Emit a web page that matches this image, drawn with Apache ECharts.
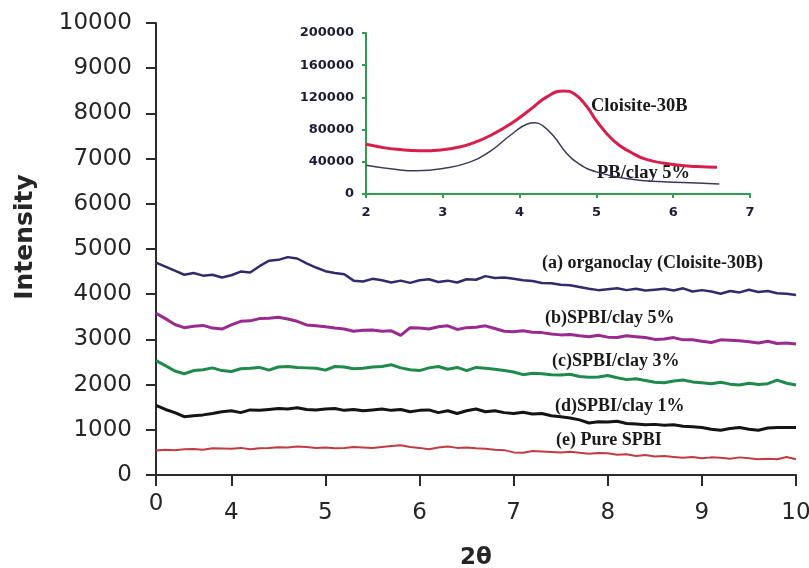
<!DOCTYPE html>
<html>
<head>
<meta charset="utf-8">
<title>XRD</title>
<script src="https://cdn.jsdelivr.net/npm/echarts@6/dist/echarts.min.js"></script>
<style>
  html, body { margin: 0; padding: 0; background: #fff; }
  #xrdChart { width: 809px; height: 568px; }
</style>
</head>
<body>
<div id="xrdChart"></div>
<script>
// 主图 x 轴 (2θ), 横轴从 3.2 开始, 但原图第一格标 0
const xTickVals = [3.2, 4, 5, 6, 7, 8, 9, 10]
const xTickLabels = ['0', '4', '5', '6', '7', '8', '9', '10']

const twoTheta = [
  3.2, 3.3, 3.4, 3.5, 3.6, 3.7, 3.8, 3.9, 4.0, 4.1, 4.2, 4.3, 4.4, 4.5, 4.6, 4.7, 4.8, 4.9,
  5.0, 5.1, 5.2, 5.3, 5.4, 5.5, 5.6, 5.7, 5.8, 5.9, 6.0, 6.1, 6.2, 6.3, 6.4, 6.5, 6.6, 6.7, 6.8, 6.9,
  7.0, 7.1, 7.2, 7.3, 7.4, 7.5, 7.6, 7.7, 7.8, 7.9, 8.0, 8.1, 8.2, 8.3, 8.4, 8.5, 8.6, 8.7, 8.8, 8.9,
  9.0, 9.1, 9.2, 9.3, 9.4, 9.5, 9.6, 9.7, 9.8, 9.9, 10.0
]

// (a) organoclay (Cloisite-30B)
const organoclay = [
  4700, 4610, 4520, 4430, 4470, 4410, 4430, 4370, 4420, 4500, 4480, 4620, 4740, 4760, 4820, 4790, 4680, 4590,
  4510, 4470, 4440, 4300, 4280, 4340, 4310, 4260, 4300, 4250, 4310, 4330, 4270, 4300, 4260, 4330, 4320, 4400, 4360, 4370,
  4340, 4310, 4290, 4250, 4240, 4210, 4200, 4160, 4120, 4090, 4110, 4130, 4090, 4120, 4080, 4100, 4120, 4080, 4130, 4060,
  4090, 4060, 4010, 4070, 4040, 4100, 4050, 4070, 4020, 4010, 3980
]
// (b) SPBI/clay 5%
const clay5 = [
  3580, 3460, 3330, 3260, 3290, 3310, 3250, 3230, 3320, 3400, 3410, 3460, 3470, 3490, 3450, 3400, 3320, 3300,
  3280, 3250, 3230, 3180, 3200, 3210, 3180, 3190, 3090, 3260, 3250, 3230, 3280, 3300, 3220, 3260, 3270, 3300, 3240, 3180,
  3170, 3190, 3160, 3150, 3120, 3100, 3110, 3080, 3060, 3090, 3050, 3040, 3080, 3060, 3040, 3000, 3010, 3040, 2990, 2990,
  2960, 2930, 2990, 2980, 2970, 2950, 2920, 2960, 2910, 2920, 2900
]
// (c) SPBI/clay 3%
const clay3 = [
  2530, 2420, 2300, 2240, 2310, 2330, 2370, 2310, 2290, 2350, 2360, 2380, 2320, 2390, 2400, 2380, 2370, 2360,
  2320, 2400, 2390, 2350, 2360, 2390, 2400, 2440, 2370, 2330, 2310, 2370, 2400, 2340, 2380, 2310, 2380, 2360, 2340, 2310,
  2280, 2220, 2250, 2240, 2220, 2210, 2230, 2180, 2160, 2170, 2200, 2150, 2110, 2130, 2090, 2050, 2040, 2080, 2100, 2060,
  2040, 2020, 2050, 2010, 1990, 2030, 2000, 2020, 2100, 2030, 1990
]
// (d) SPBI/clay 1%
const clay1 = [
  1540, 1450, 1380, 1290, 1310, 1330, 1360, 1400, 1420, 1380, 1440, 1430, 1450, 1470, 1460, 1490, 1450, 1440,
  1460, 1470, 1430, 1450, 1420, 1440, 1460, 1430, 1450, 1400, 1430, 1440, 1380, 1420, 1360, 1420, 1460, 1400, 1420, 1380,
  1360, 1390, 1350, 1360, 1310, 1290, 1260, 1220, 1150, 1180, 1170, 1190, 1140, 1130, 1110, 1120, 1100, 1110, 1080, 1070,
  1050, 1010, 990, 1030, 1050, 1010, 990, 1040, 1050, 1050, 1050
]
// (e) Pure SPBI
const pureSpbi = [
  540, 560, 550, 570, 575, 560, 590, 585, 580, 600, 570, 590, 600, 615, 610, 630, 620, 600,
  610, 590, 600, 620, 610, 595, 620, 640, 660, 620, 600, 570, 610, 630, 600, 610, 590, 580, 560, 550,
  500, 490, 530, 520, 510, 500, 515, 490, 470, 485, 480, 450, 460, 420, 440, 410, 420, 400, 380, 400,
  370, 390, 380, 360, 390, 370, 350, 360, 350, 400, 350
]

// 小图 (inset)
const insetCloisite = [
  [2.0, 61700], [2.2, 58000], [2.4, 55500], [2.7, 53600], [3.0, 55000], [3.2, 58000], [3.4, 63500],
  [3.62, 72700], [3.88, 87000], [4.14, 105000], [4.36, 121000], [4.57, 128000], [4.72, 124000],
  [4.88, 108000], [5.0, 91000], [5.22, 66600], [5.44, 52200], [5.66, 42700], [6.0, 36600],
  [6.31, 34100], [6.57, 33300]
]
const insetPbClay = [
  [2.0, 35800], [2.4, 30400], [2.66, 28800], [3.0, 31600], [3.36, 39900], [3.62, 53400], [3.88, 73000],
  [4.1, 87000], [4.2, 88600], [4.3, 85000], [4.45, 71000], [4.6, 52000], [4.75, 39000], [5.0, 27500],
  [5.44, 18500], [5.87, 15200], [6.31, 13600], [6.6, 12300]
]

const seriesNames = [
  '(a) organoclay (Cloisite-30B)', '(b)SPBI/clay 5%', '(c)SPBI/clay 3%', '(d)SPBI/clay 1%', '(e) Pure SPBI'
]
const seriesData = [organoclay, clay5, clay3, clay1, pureSpbi]
const seriesColors = ['#302c6c', '#9a2a8e', '#1f8a4c', '#141414', '#c23b40']
const seriesWidths = [2.5, 3, 3, 3, 2]

const axisFont = 'DejaVu Sans'

const chartDom = document.getElementById('xrdChart')
const myChart = echarts.init(chartDom)

function pairs(ys) {
  return ys.map((y, i) => [twoTheta[i], y])
}

// 标注文字 (居中于 y)
function note(text, x, y, size) {
  return {
    type: 'text',
    x: x,
    y: y,
    style: {
      text: text,
      font: 'bold ' + size + 'px "Liberation Serif"',
      fill: '#1a1a1a',
      verticalAlign: 'middle'
    }
  }
}

const mainSeries = seriesData.map((ys, i) => ({
  name: seriesNames[i],
  type: 'line',
  xAxisIndex: 0,
  yAxisIndex: 0,
  showSymbol: false,
  data: pairs(ys),
  lineStyle: { color: seriesColors[i], width: seriesWidths[i] },
  itemStyle: { color: seriesColors[i] }
}))

const option = {
  backgroundColor: '#fff',
  animation: false,
  grid: [
    { left: 156, top: 23, right: 13, bottom: 93, outerBoundsMode: 'none' },
    { left: 366, top: 33, right: 59, bottom: 374, outerBoundsMode: 'none' }
  ],
  xAxis: [
    {
      type: 'value',
      gridIndex: 0,
      min: 3.2,
      max: 10,
      name: '2θ',
      nameLocation: 'middle',
      nameGap: 72,
      nameTextStyle: { fontFamily: axisFont, fontWeight: 'bold', fontSize: 23, color: '#262626' },
      axisLine: { lineStyle: { color: '#2b2b2b', width: 2 } },
      axisTick: { show: true, length: 11, customValues: xTickVals, lineStyle: { color: '#2b2b2b', width: 2 } },
      axisLabel: {
        customValues: xTickVals,
        margin: 27,
        fontFamily: axisFont,
        fontSize: 23,
        color: '#262626',
        formatter: function(v) {
          const i = xTickVals.findIndex(t => Math.abs(t - v) < 1e-6)
          if (i < 0) return ''
          // 原图里第一个 "0" 比其它标签略高
          return i === 0 ? '{up|' + xTickLabels[i] + '}' : xTickLabels[i]
        },
        rich: {
          up: { fontFamily: axisFont, fontSize: 23, color: '#262626', lineHeight: 4 }
        }
      },
      splitLine: { show: false }
    },
    {
      type: 'value',
      gridIndex: 1,
      min: 2,
      max: 7,
      interval: 1,
      axisLine: { lineStyle: { color: '#2f9e4f', width: 2 } },
      axisTick: { length: 4, lineStyle: { color: '#2f9e4f', width: 2 } },
      axisLabel: { margin: 12, fontFamily: axisFont, fontWeight: 'bold', fontSize: 13, color: '#1c1c3a' },
      splitLine: { show: false }
    }
  ],
  yAxis: [
    {
      type: 'value',
      gridIndex: 0,
      min: 0,
      max: 10000,
      interval: 1000,
      axisLine: { show: true, lineStyle: { color: '#2b2b2b', width: 2 } },
      axisTick: { show: true, length: 10, lineStyle: { color: '#2b2b2b', width: 2 } },
      axisLabel: {
        margin: 24,
        fontFamily: axisFont,
        fontSize: 23,
        color: '#262626',
        formatter: v => String(v)
      },
      splitLine: { show: false }
    },
    {
      type: 'value',
      gridIndex: 1,
      min: 0,
      max: 200000,
      interval: 40000,
      axisLine: { show: true, lineStyle: { color: '#2f9e4f', width: 2 } },
      axisTick: { show: true, length: 4, lineStyle: { color: '#2f9e4f', width: 2 } },
      axisLabel: {
        margin: 12,
        fontFamily: axisFont,
        fontWeight: 'bold',
        fontSize: 13,
        color: '#1c1c3a',
        formatter: v => String(v)
      },
      splitLine: { show: false }
    }
  ],
  series: mainSeries.concat([
    {
      name: 'Cloisite-30B',
      type: 'line',
      xAxisIndex: 1,
      yAxisIndex: 1,
      smooth: true,
      showSymbol: false,
      data: insetCloisite,
      lineStyle: { color: '#d81f4b', width: 3 }
    },
    {
      name: 'PB/clay 5%',
      type: 'line',
      xAxisIndex: 1,
      yAxisIndex: 1,
      smooth: true,
      showSymbol: false,
      data: insetPbClay,
      lineStyle: { color: '#3a3a5c', width: 1.5 }
    }
  ]),
  graphic: [
    {
      type: 'text',
      x: 25,
      y: 237,
      rotation: Math.PI / 2,
      style: {
        text: 'Intensity',
        font: 'bold 25px "DejaVu Sans"',
        fill: '#262626',
        align: 'center',
        verticalAlign: 'middle'
      }
    },
    note(seriesNames[0], 542, 263, 18),
    note(seriesNames[1], 545, 318, 18),
    note(seriesNames[2], 552, 361, 18),
    note(seriesNames[3], 555, 406, 18),
    note(seriesNames[4], 556, 440, 18),
    note('Cloisite-30B', 591, 106, 18.5),
    note('PB/clay 5%', 597, 173, 18.5)
  ]
}

myChart.setOption(option)
</script>
</body>
</html>
